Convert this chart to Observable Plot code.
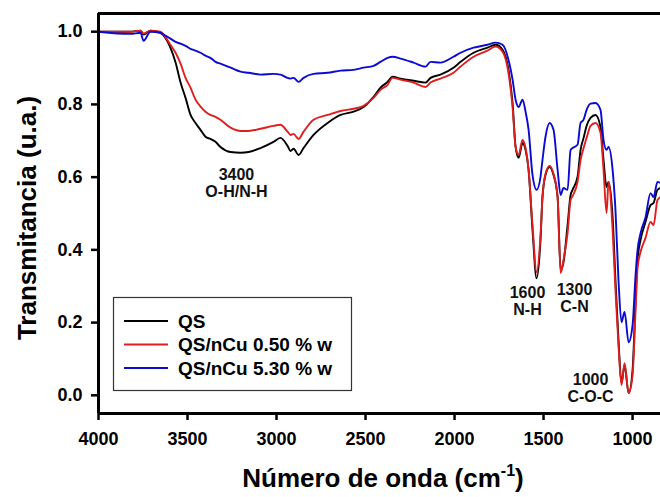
<!DOCTYPE html>
<html><head><meta charset="utf-8">
<script src="https://cdn.jsdelivr.net/npm/d3@7"></script>
<script src="https://cdn.jsdelivr.net/npm/@observablehq/plot@0.6"></script>
<style>body{margin:0;background:#fff} svg{display:block}</style>
</head><body><div id="chart"></div>
<script>
// FTIR spectra
const wavenumber = [4000,3820,3764,3747,3708,3652,3624,3596,3567,3539,
 3511,3483,3455,3427,3399,3371,3343,3315,3258,3202,
 3157,3090,3017,2978,2938,2921,2904,2876,2848,2792,
 2713,2640,2567,2511,2455,2416,2376,2348,2303,2230,
 2163,2135,2079,2006,1966,1893,1815,1770,1730,1697,
 1674,1657,1640,1618,1601,1584,1562,1539,1517,1506,
 1489,1466,1444,1421,1404,1388,1365,1348,1337,1309,
 1292,1275,1258,1236,1208,1180,1163,1146,1135,1112,
 1096,1079,1062,1045,1022,1000,983,972,955,927,
 899,882,860,843];
const qs = [1.000,1.000,1.003,0.992,1.003,0.997,0.983,0.956,0.915,0.860,
 0.818,0.771,0.749,0.730,0.711,0.705,0.697,0.683,0.669,0.667,
 0.669,0.680,0.697,0.708,0.686,0.672,0.678,0.661,0.680,0.716,
 0.749,0.771,0.780,0.793,0.821,0.846,0.862,0.876,0.871,0.865,
 0.860,0.873,0.882,0.901,0.917,0.942,0.956,0.964,0.950,0.895,
 0.804,0.683,0.653,0.694,0.675,0.620,0.455,0.322,0.427,0.545,
 0.606,0.628,0.606,0.545,0.344,0.366,0.468,0.551,0.565,0.601,
 0.675,0.708,0.741,0.763,0.771,0.738,0.647,0.573,0.587,0.490,
 0.317,0.152,0.033,0.083,0.006,0.069,0.262,0.372,0.427,0.477,
 0.523,0.529,0.565,0.570];
const qsCu050 = [1.000,1.000,1.003,0.995,1.003,1.000,0.985,0.964,0.942,0.912,
 0.873,0.846,0.813,0.794,0.780,0.771,0.766,0.758,0.736,0.727,
 0.727,0.733,0.741,0.744,0.725,0.716,0.719,0.705,0.725,0.758,
 0.771,0.782,0.788,0.796,0.818,0.840,0.854,0.873,0.868,0.860,
 0.848,0.860,0.871,0.887,0.904,0.931,0.948,0.959,0.945,0.887,
 0.793,0.683,0.661,0.702,0.680,0.620,0.468,0.339,0.441,0.545,
 0.609,0.631,0.609,0.545,0.336,0.372,0.446,0.537,0.548,0.587,
 0.647,0.680,0.708,0.741,0.749,0.722,0.620,0.501,0.587,0.455,
 0.289,0.138,0.028,0.088,0.006,0.055,0.234,0.350,0.394,0.433,
 0.477,0.468,0.537,0.545];
const qsCu530 = [1.000,0.994,0.997,0.975,1.000,0.997,0.989,0.981,0.972,0.967,
 0.961,0.953,0.948,0.942,0.934,0.928,0.917,0.912,0.901,0.890,
 0.887,0.882,0.884,0.882,0.873,0.871,0.873,0.862,0.873,0.884,
 0.887,0.893,0.895,0.901,0.906,0.917,0.928,0.931,0.926,0.915,
 0.904,0.917,0.915,0.931,0.942,0.956,0.964,0.970,0.964,0.923,
 0.868,0.813,0.793,0.813,0.780,0.730,0.606,0.565,0.601,0.647,
 0.711,0.749,0.730,0.620,0.551,0.570,0.565,0.675,0.680,0.689,
 0.749,0.758,0.785,0.802,0.804,0.785,0.702,0.675,0.683,0.620,
 0.510,0.317,0.201,0.229,0.146,0.193,0.331,0.399,0.446,0.490,
 0.556,0.545,0.587,0.584];
const seriesNames = ["QS", "QS/nCu 0.50 % w", "QS/nCu 5.30 % w"];
const seriesColors = ["#000000", "#e01e1e", "#0a0ad2"];
const yTicks = [0, 0.2, 0.4, 0.6, 0.8, 1.0];
const xTicks = [4000, 3500, 3000, 2500, 2000, 1500, 1000];
const bandWn = [3225, 1590, 1326, 1236];
const bandT = [0.584, 0.259, 0.267, 0.019];
const bandLabels = ["3400\nO-H/N-H", "1600\nN-H", "1300\nC-N", "1000\nC-O-C"];

const seriesValues = [qs, qsCu050, qsCu530];
const rows = [];
seriesNames.forEach((name, i) => wavenumber.forEach((w, j) => rows.push({wn: w, t: seriesValues[i][j], series: name})));

const font = "'Liberation Sans', Arial, sans-serif";
const chart = Plot.plot({
  width: 660, height: 497,
  marginLeft: 98, marginTop: 13, marginRight: 0, marginBottom: 84,
  style: {fontFamily: font, background: "#fff", color: "#000"},
  x: {domain: [4000, 843]},
  y: {domain: [-0.05, 1.05]},
  color: {domain: seriesNames, range: seriesColors},
  marks: [
    Plot.line(rows, {x: "wn", y: "t", z: "series", stroke: "series", strokeWidth: 1.9, curve: "monotone-x", clip: true}),
    Plot.text(bandLabels, {x: bandWn, y: bandT, text: bandLabels, fontSize: 16, fontWeight: "bold", lineHeight: 1.07, fill: "#111"}),
    Plot.axisY(yTicks, {tickSize: 7, tickPadding: 9, tickFormat: d => d.toFixed(1), fontSize: 18, fontWeight: "bold", label: null, strokeWidth: 2.5}),
    Plot.axisX(xTicks, {tickSize: 7, tickPadding: 12, tickFormat: d => String(d), fontSize: 18, fontWeight: "bold", label: null, strokeWidth: 2.5}),
    Plot.ruleX([4000], {strokeWidth: 3}),
    Plot.ruleY([1.05], {strokeWidth: 3}),
    Plot.ruleY([-0.05], {strokeWidth: 3})
  ]
});
document.getElementById("chart").appendChild(chart);

const svg = d3.select(chart);
// legend
const lg = svg.append("g").attr("font-family", font).attr("font-weight", "bold").attr("font-size", 19).attr("text-anchor", "start");
lg.append("rect").attr("x", 113.5).attr("y", 297.5).attr("width", 238).attr("height", 93)
  .attr("fill", "#fff").attr("stroke", "#333").attr("stroke-width", 1.2);
seriesNames.forEach((name, i) => {
  const y = 321 + i * 23.5;
  lg.append("line").attr("x1", 124).attr("x2", 168).attr("y1", y).attr("y2", y)
    .attr("stroke", seriesColors[i]).attr("stroke-width", 1.8);
  lg.append("text").attr("x", 178).attr("y", y).attr("dy", "0.35em").attr("text-anchor", "start").attr("fill", "#000").text(name);
});
// axis titles
svg.append("text").attr("transform", "translate(36,218) rotate(-90)").attr("text-anchor", "middle")
  .attr("font-family", font).attr("font-weight", "bold").attr("font-size", 26).attr("fill", "#000")
  .text("Transmitancia (u.a.)");
const xt = svg.append("text").attr("x", 383).attr("y", 487).attr("text-anchor", "middle")
  .attr("font-family", font).attr("font-weight", "bold").attr("font-size", 26).attr("fill", "#000");
xt.append("tspan").text("Número de onda (cm");
xt.append("tspan").attr("dy", -11).attr("font-size", 16).text("-1");
xt.append("tspan").attr("dy", 11).text(")");
</script>
</body></html>
